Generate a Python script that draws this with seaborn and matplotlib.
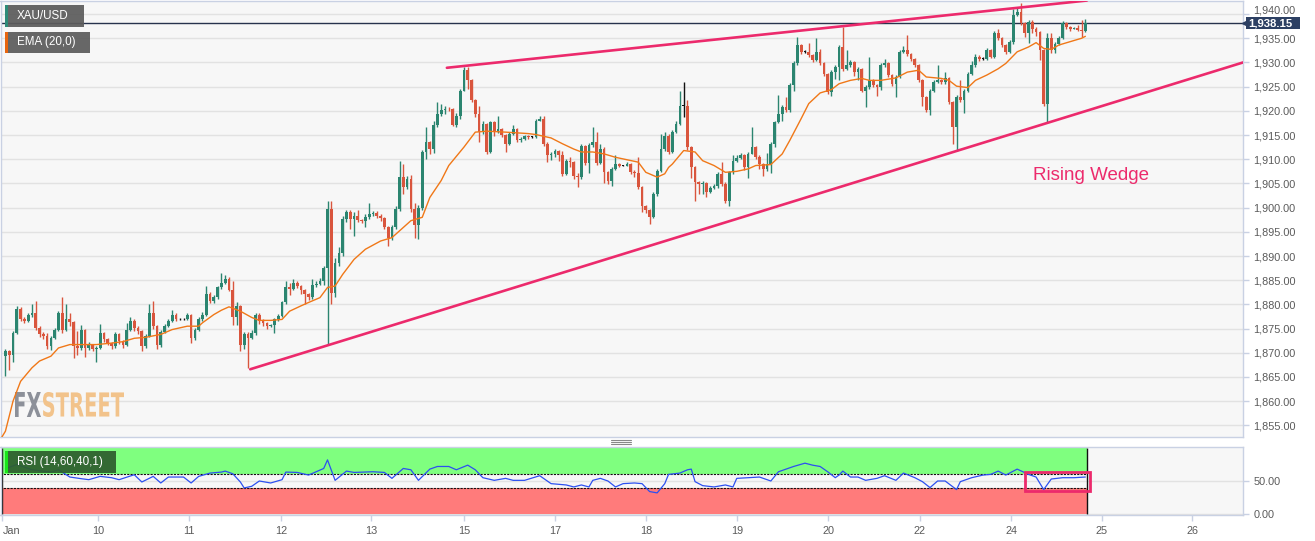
import numpy as np
import pandas as pd
import matplotlib
matplotlib.use('Agg')
import matplotlib.pyplot as plt
import seaborn as sns
from matplotlib.patches import Rectangle, PathPatch
from matplotlib.textpath import TextPath
from matplotlib.font_manager import FontProperties
from matplotlib.transforms import Affine2D, blended_transform_factory
from matplotlib.lines import Line2D
from matplotlib.ticker import FuncFormatter

# hourly XAU/USD candles (open = previous close)
first_open = 1869.4
closes = [
    1870.3, 1869.5, 1874.1, 1879.0, 1877.0, 1876.6, 1877.9, 1878.2, 1875.2, 1873.8,
    1873.5, 1871.4, 1873.1, 1874.8, 1878.3, 1874.8, 1876.9, 1876.3, 1871.4, 1871.0,
    1874.8, 1871.0, 1871.7, 1870.8, 1871.0, 1874.1, 1872.8, 1872.0, 1871.4, 1873.8,
    1872.4, 1871.7, 1874.8, 1876.6, 1875.2, 1874.5, 1871.4, 1873.5, 1878.3, 1875.5,
    1871.7, 1874.3, 1875.5, 1876.6, 1877.9, 1876.9, 1876.9, 1876.9, 1877.8, 1873.1,
    1874.8, 1876.9, 1877.9, 1882.1, 1880.7, 1881.5, 1883.5, 1884.5, 1885.2, 1883.0,
    1877.3, 1879.6, 1871.7, 1873.8, 1873.1, 1874.0, 1877.9, 1876.6, 1876.2, 1875.5,
    1875.7, 1876.9, 1877.6, 1880.4, 1883.5, 1883.2, 1884.5, 1883.8, 1882.9, 1882.1,
    1881.6, 1884.1, 1884.3, 1884.9, 1887.6, 1899.7, 1882.4, 1888.6, 1890.7, 1897.6,
    1899.0, 1897.6, 1898.3, 1897.4, 1897.2, 1898.0, 1898.7, 1898.9, 1898.3, 1897.8,
    1895.9, 1893.8, 1895.9, 1899.7, 1906.3, 1904.2, 1905.9, 1899.7, 1896.5, 1900.0,
    1911.5, 1913.5, 1912.2, 1917.0, 1919.4, 1920.1, 1920.4, 1920.3, 1917.0, 1919.0,
    1924.2, 1928.4, 1926.3, 1922.2, 1919.4, 1915.6, 1917.3, 1911.5, 1917.7, 1915.6,
    1916.3, 1915.0, 1913.2, 1915.3, 1916.3, 1913.9, 1914.2, 1914.7, 1914.6, 1914.6,
    1918.0, 1918.4, 1913.2, 1910.8, 1911.0, 1911.8, 1910.8, 1907.0, 1909.7, 1909.4,
    1906.6, 1906.3, 1912.8, 1909.2, 1912.9, 1913.5, 1909.2, 1912.2, 1907.3, 1905.6,
    1908.0, 1909.0, 1908.7, 1908.7, 1909.0, 1907.3, 1907.2, 1904.2, 1900.4, 1899.6,
    1898.0, 1902.8, 1907.6, 1912.1, 1914.9, 1911.5, 1915.6, 1917.3, 1921.1, 1921.1,
    1912.5, 1908.3, 1905.2, 1904.9, 1905.0, 1903.2, 1904.0, 1904.4, 1907.0, 1904.9,
    1901.4, 1907.3, 1909.7, 1910.3, 1910.8, 1908.3, 1911.1, 1912.5, 1910.4, 1909.0,
    1908.0, 1909.1, 1913.2, 1917.7, 1919.4, 1920.8, 1920.1, 1925.3, 1929.8, 1933.6,
    1932.2, 1932.2, 1931.5, 1930.5, 1932.2, 1929.8, 1927.7, 1923.9, 1928.1, 1929.1,
    1933.2, 1928.7, 1929.4, 1930.1, 1928.0, 1928.7, 1924.2, 1924.9, 1926.3, 1925.3,
    1925.0, 1929.4, 1929.8, 1927.4, 1925.5, 1927.0, 1932.2, 1932.5, 1931.8, 1930.8,
    1929.4, 1926.3, 1922.9, 1920.1, 1924.2, 1926.0, 1926.3, 1925.9, 1926.7, 1921.8,
    1916.6, 1922.9, 1922.2, 1924.2, 1927.7, 1929.4, 1931.2, 1930.8, 1930.8, 1932.5,
    1931.2, 1936.0, 1935.0, 1933.6, 1932.2, 1934.3, 1939.8, 1940.5, 1938.1, 1936.0,
    1938.4, 1937.0, 1936.3, 1932.5, 1921.4, 1935.0, 1932.5, 1933.9, 1935.0, 1938.1,
    1937.4, 1937.0, 1937.2, 1936.7, 1936.5, 1938.15]
highs = [
    1870.8, 1870.6, 1874.5, 1879.7, 1879.5, 1877.5, 1878.3, 1880.0, 1880.8, 1875.5,
    1874.2, 1874.0, 1873.5, 1875.2, 1878.6, 1881.5, 1880.0, 1878.3, 1876.5, 1874.5,
    1875.7, 1875.0, 1872.2, 1871.9, 1871.4, 1875.9, 1874.3, 1873.0, 1872.2, 1874.2,
    1874.0, 1872.6, 1876.2, 1877.3, 1877.0, 1875.6, 1874.8, 1873.9, 1880.0, 1880.7,
    1875.8, 1874.7, 1876.0, 1877.0, 1878.8, 1878.2, 1877.1, 1877.1, 1878.2, 1878.0,
    1875.2, 1877.3, 1878.4, 1883.8, 1882.5, 1882.0, 1883.9, 1886.4, 1886.0, 1885.6,
    1884.8, 1880.4, 1879.8, 1874.3, 1874.3, 1874.8, 1878.3, 1878.2, 1877.0, 1876.4,
    1876.0, 1877.2, 1878.0, 1880.8, 1884.8, 1884.4, 1885.3, 1884.8, 1884.0, 1883.2,
    1882.4, 1885.2, 1884.8, 1885.5, 1888.0, 1901.4, 1901.4, 1889.5, 1891.8, 1898.2,
    1899.6, 1899.5, 1899.0, 1899.6, 1897.6, 1898.6, 1901.0, 1899.4, 1899.2, 1898.6,
    1898.0, 1896.2, 1896.4, 1900.3, 1909.7, 1909.0, 1906.6, 1906.8, 1901.0, 1900.6,
    1912.0, 1916.6, 1913.8, 1917.8, 1921.8, 1921.4, 1920.9, 1920.7, 1920.5, 1919.5,
    1924.6, 1929.1, 1929.0, 1926.6, 1922.4, 1921.0, 1918.0, 1917.4, 1918.0, 1917.9,
    1919.0, 1916.5, 1915.2, 1915.6, 1917.0, 1916.5, 1914.6, 1915.0, 1915.0, 1914.8,
    1918.4, 1918.9, 1918.9, 1913.5, 1911.4, 1912.2, 1912.0, 1911.8, 1910.1, 1910.4,
    1909.6, 1907.2, 1913.2, 1913.0, 1913.3, 1916.6, 1915.6, 1913.2, 1912.5, 1907.6,
    1908.4, 1910.8, 1909.3, 1908.9, 1909.4, 1909.2, 1907.8, 1910.4, 1904.5, 1900.6,
    1899.8, 1903.2, 1908.0, 1915.2, 1915.6, 1915.2, 1916.0, 1918.0, 1924.2, 1926.0,
    1922.2, 1912.8, 1908.5, 1905.6, 1905.4, 1905.3, 1904.4, 1904.8, 1907.4, 1909.4,
    1905.2, 1907.6, 1910.8, 1910.8, 1911.2, 1911.0, 1911.5, 1916.6, 1912.8, 1910.8,
    1909.3, 1911.2, 1913.6, 1918.0, 1923.2, 1921.2, 1922.9, 1925.7, 1930.2, 1935.3,
    1933.8, 1932.6, 1934.0, 1931.8, 1935.0, 1932.8, 1930.0, 1927.9, 1928.5, 1929.5,
    1933.6, 1937.4, 1932.5, 1930.6, 1930.3, 1929.0, 1928.9, 1925.3, 1931.2, 1926.6,
    1925.6, 1929.8, 1930.8, 1930.0, 1927.6, 1927.4, 1932.6, 1933.5, 1935.6, 1932.0,
    1931.0, 1929.6, 1926.5, 1923.1, 1924.6, 1926.4, 1929.4, 1926.5, 1928.1, 1927.0,
    1922.0, 1923.3, 1926.3, 1924.6, 1928.0, 1930.4, 1931.7, 1931.6, 1931.2, 1932.9,
    1932.7, 1936.4, 1937.0, 1935.3, 1933.9, 1934.7, 1941.0, 1941.5, 1942.2, 1938.4,
    1938.8, 1938.7, 1937.3, 1936.6, 1932.8, 1936.0, 1936.0, 1934.3, 1935.4, 1938.5,
    1938.4, 1937.6, 1937.4, 1937.8, 1938.8, 1938.9]
lows = [
    1865.2, 1866.5, 1868.2, 1873.8, 1876.5, 1876.2, 1876.4, 1877.5, 1874.8, 1873.2,
    1872.9, 1870.8, 1870.5, 1872.8, 1874.5, 1874.0, 1874.5, 1875.6, 1869.0, 1869.5,
    1870.6, 1869.2, 1870.6, 1870.4, 1868.0, 1870.8, 1872.3, 1871.6, 1870.8, 1871.0,
    1871.9, 1870.9, 1871.4, 1874.5, 1874.6, 1873.9, 1870.3, 1871.0, 1873.2, 1875.0,
    1870.8, 1871.2, 1874.0, 1875.3, 1876.4, 1876.5, 1876.7, 1876.7, 1876.7, 1872.0,
    1872.7, 1874.5, 1876.6, 1877.6, 1880.2, 1880.3, 1881.2, 1883.2, 1884.2, 1882.7,
    1875.7, 1875.7, 1870.3, 1870.8, 1866.9, 1872.8, 1873.6, 1876.0, 1875.6, 1875.0,
    1875.3, 1874.0, 1876.6, 1877.3, 1880.1, 1882.0, 1883.0, 1883.4, 1882.1, 1880.0,
    1881.0, 1881.2, 1883.6, 1884.0, 1884.0, 1871.6, 1880.0, 1881.5, 1888.0, 1890.0,
    1897.0, 1895.5, 1894.2, 1897.0, 1896.9, 1896.0, 1897.6, 1898.2, 1897.8, 1897.2,
    1895.5, 1892.1, 1893.3, 1895.5, 1899.3, 1902.8, 1903.8, 1899.0, 1893.8, 1893.5,
    1899.6, 1910.0, 1911.0, 1911.2, 1916.6, 1919.0, 1919.4, 1919.9, 1916.8, 1916.6,
    1918.4, 1924.0, 1924.6, 1921.8, 1918.8, 1913.5, 1915.3, 1911.0, 1911.3, 1914.9,
    1915.4, 1914.6, 1911.5, 1913.0, 1915.0, 1913.5, 1913.5, 1913.9, 1914.2, 1914.4,
    1914.3, 1917.8, 1912.8, 1909.4, 1909.8, 1910.5, 1909.6, 1906.6, 1906.8, 1908.3,
    1905.9, 1904.2, 1906.0, 1908.8, 1907.2, 1912.6, 1908.8, 1909.0, 1905.0, 1904.8,
    1904.4, 1907.8, 1908.4, 1908.5, 1908.5, 1906.9, 1906.4, 1903.8, 1899.0, 1898.8,
    1896.6, 1897.8, 1902.5, 1907.4, 1911.8, 1911.0, 1911.3, 1915.4, 1917.0, 1918.8,
    1912.0, 1906.2, 1901.4, 1902.8, 1902.8, 1902.1, 1903.0, 1903.8, 1904.0, 1904.4,
    1901.0, 1900.4, 1907.0, 1909.4, 1910.1, 1907.8, 1906.2, 1911.0, 1910.0, 1907.9,
    1906.6, 1907.6, 1907.2, 1912.5, 1917.4, 1917.9, 1919.7, 1919.8, 1924.0, 1929.5,
    1931.7, 1932.0, 1931.2, 1930.1, 1930.3, 1929.4, 1927.3, 1923.5, 1923.0, 1926.6,
    1926.3, 1928.2, 1928.4, 1929.0, 1927.2, 1926.4, 1923.8, 1920.8, 1924.6, 1924.9,
    1923.0, 1924.3, 1929.0, 1927.0, 1925.2, 1922.8, 1926.8, 1932.0, 1931.4, 1930.4,
    1929.0, 1925.9, 1921.1, 1919.8, 1919.1, 1923.9, 1925.8, 1925.5, 1925.6, 1921.4,
    1913.2, 1911.8, 1921.8, 1919.5, 1923.9, 1927.4, 1929.1, 1930.4, 1930.6, 1930.5,
    1930.9, 1931.0, 1934.6, 1933.2, 1931.8, 1932.0, 1933.9, 1939.6, 1937.8, 1935.2,
    1934.0, 1936.0, 1935.4, 1930.5, 1921.0, 1917.7, 1932.0, 1932.0, 1933.6, 1934.8,
    1937.0, 1936.5, 1936.9, 1936.4, 1935.3, 1936.3]

# EMA(20) line, sampled off the chart
ema_idx = [-1, 0, 2, 4, 7, 9, 12, 14, 17, 21, 24, 28, 31, 34, 37, 41, 44, 48, 51, 52, 55,
           57, 59, 62, 65, 67, 70, 73, 75, 78, 80, 83, 85, 87, 89, 92, 95, 99, 102, 104, 107,
           110, 112, 115, 117, 121, 124, 127, 132, 138, 140, 144, 147, 150, 152, 155, 158,
           161, 164, 167, 169, 172, 174, 175, 176, 179, 182, 184, 187, 190, 193, 196, 198,
           202, 205, 207, 210, 212, 215, 218, 220, 223, 226, 228, 231, 235, 238, 241, 243,
           247, 249, 251, 254, 256, 259, 262, 264, 267, 270, 272, 274, 276, 278, 281, 284, 285]
ema_val = [1852.5, 1853.8, 1860.0, 1864.1, 1866.9, 1868.3, 1869.3, 1871.0, 1871.7, 1871.7,
           1871.7, 1872.0, 1872.3, 1873.0, 1873.2, 1873.8, 1874.8, 1875.5, 1875.5, 1876.2,
           1877.9, 1878.8, 1879.5, 1878.6, 1877.3, 1876.7, 1876.7, 1876.9, 1878.6, 1879.7,
           1880.4, 1881.4, 1883.5, 1883.8, 1886.2, 1889.3, 1891.4, 1893.1, 1893.8, 1895.2,
           1897.3, 1898.0, 1902.1, 1905.6, 1908.7, 1912.5, 1915.6, 1915.8, 1915.6, 1915.3,
           1915.1, 1914.4, 1913.2, 1912.1, 1911.5, 1911.5, 1911.1, 1910.4, 1909.9, 1909.4,
           1907.3, 1906.3, 1907.0, 1908.3, 1909.0, 1911.8, 1911.5, 1909.7, 1908.7, 1907.3,
           1907.5, 1908.0, 1908.7, 1908.9, 1911.1, 1913.9, 1918.4, 1921.5, 1923.7, 1924.4,
           1925.6, 1926.3, 1926.7, 1926.3, 1926.3, 1926.8, 1928.0, 1928.4, 1927.0, 1926.7,
           1926.3, 1925.1, 1924.8, 1926.3, 1927.4, 1928.7, 1929.8, 1932.2, 1933.2, 1934.1,
           1932.9, 1932.7, 1933.6, 1934.3, 1935.0, 1935.4]

# RSI(14) line, sampled off the chart
rsi_idx = [0, 3, 7, 12, 14, 17, 20, 22, 25, 28, 30, 34, 36, 39, 41, 43, 47, 49, 51, 54,
           57, 58, 60, 62, 63, 65, 67, 70, 73, 74, 77, 80, 82, 84, 85, 87, 90, 92, 97, 100,
           102, 105, 107, 109, 112, 114, 117, 119, 122, 124, 126, 129, 132, 134, 137, 141,
           144, 148, 150, 152, 154, 155, 157, 159, 161, 163, 166, 168, 170, 172, 174, 175,
           178, 180, 181, 182, 184, 187, 190, 192, 193, 196, 199, 202, 204, 206, 208, 211,
           213, 215, 217, 219, 220, 221, 223, 225, 227, 230, 232, 235, 237, 240, 242, 244,
           246, 248, 251, 252, 255, 258, 260, 262, 264, 267, 270, 272, 274, 276, 279, 282, 285]
rsi_val = [68.6, 75, 67, 63.5, 67, 56, 53.5, 52, 57, 55, 52, 59.5, 48.5, 57, 47, 56, 56, 47,
           57, 62, 63.5, 65, 61, 48.5, 39.5, 42, 50, 47, 52, 63.5, 63, 59, 64, 69, 82, 51, 65,
           63, 64, 63, 54, 69, 67, 51, 68, 72, 72, 67, 74, 67, 55, 51, 54, 51, 51, 58, 46, 44,
           41, 44, 41, 51, 54, 50, 41, 46, 47, 46, 34, 32, 46, 60, 62, 67, 68, 49, 43, 41, 44,
           41, 54, 55, 56, 50, 64, 68, 72, 77, 74, 72, 64, 55, 59, 65, 56, 56, 51, 54, 58, 51,
           62, 55, 49, 40, 50, 50, 37, 49, 55, 59, 60, 65, 59, 68, 60, 56, 37, 53, 55, 55, 56]

day_ticks = [-0.8, 24.5, 48.5, 72.7, 96.6, 121.0, 145.0, 169.0, 193.0, 217.2, 241.3, 265.5, 289.3, 313.2]
day_labels = ['Jan', '10', '11', '12', '13', '15', '17', '18', '19', '20', '22', '24', '25', '26']

upper_x, upper_y = [116.5, 285.4], [1928.9, 1942.8]
lower_x, lower_y = [64.6, 326.6], [1866.6, 1930.0]
last_price = 1938.15

sns.set_theme(style='white')
plt.rcParams['font.family'] = ['Liberation Sans', 'DejaVu Sans']

W, H = 1315, 541
fig = plt.figure(figsize=(W / 100, H / 100), dpi=100, facecolor='white')


def px_rect(x0, y0, x1, y1):
    return [x0 / W, 1 - y1 / H, (x1 - x0) / W, (y1 - y0) / H]


ax = fig.add_axes(px_rect(0.5, 1, 1243, 437))
axr = fig.add_axes(px_rect(0.5, 447, 1243, 515), sharex=ax)

BG, EDGE, GRID, TXT = '#f7f7f7', '#c9d1e3', '#e2e2e2', '#5a5a5a'
PINK = '#ec2a6c'
TAG = '#2d4063'
for a in (ax, axr):
    a.set_facecolor(BG)
    for s in a.spines.values():
        s.set_color(EDGE)
        s.set_linewidth(1)

# candles
df = pd.DataFrame({'close': closes, 'high': highs, 'low': lows})
df['open'] = [first_open] + closes[:-1]
df['idx'] = np.arange(len(df))
diff = df['close'] - df['open']
df['color'] = np.where(diff > 0.05, '#2b8570', np.where(diff < -0.05, '#d9553d', '#111111'))
df['body_lo'] = df[['open', 'close']].min(axis=1)
df['body_h'] = diff.abs().clip(lower=0.15)

ax.vlines(df['idx'], df['low'], df['high'], colors=df['color'], lw=1, zorder=3)
ax.bar(df['idx'], df['body_h'], bottom=df['body_lo'], width=0.72,
       color=df['color'], linewidth=0, zorder=4)

sns.lineplot(x=ema_idx, y=ema_val, ax=ax, color='#f07818', lw=1, zorder=5)
sns.lineplot(x=upper_x, y=upper_y, ax=ax, color=PINK, lw=1.9, zorder=6)
sns.lineplot(x=lower_x, y=lower_y, ax=ax, color=PINK, lw=1.9, zorder=6)
ax.axhline(last_price, color='#27334d', lw=1, zorder=2.5)
ax.text(271.2, 1906.7, 'Rising Wedge', color=PINK, fontsize=13.5, va='center', ha='left', zorder=7)


# FXSTREET watermark
def logo_word(word, x0, x1, y_top, y_bot, color):
    tp = TextPath((0, 0), word, size=10, prop=FontProperties(family='DejaVu Sans', weight='bold'))
    ext = tp.get_extents()
    tr = (Affine2D().translate(-ext.x0, -ext.y0)
          .scale((x1 - x0) / ext.width / W, (y_bot - y_top) / ext.height / H)
          .translate(x0 / W, 1 - y_bot / H))
    ax.add_patch(PathPatch(tr.transform_path(tp), transform=fig.transFigure,
                           fc=color, ec='none', zorder=1.5))


logo_word('FX', 15, 41, 392, 417, '#8c9099')
logo_word('STREET', 43, 124, 392, 417, '#f2c38b')

ax.set_xlim(-1.3, 326.6)
ax.set_ylim(1852.6, 1942.7)
ax.yaxis.tick_right()
ax.set_yticks(np.arange(1855, 1941, 5))
# the 1,940.00 label is written separately, nudged up clear of the price tag
ax.yaxis.set_major_formatter(FuncFormatter(lambda v, p: '' if v > 1939 else f'{v:,.2f}'))
ax.tick_params(axis='y', right=True, left=False, length=4, width=1, color=EDGE,
               labelsize=7.8, labelcolor=TXT, pad=3.5)
ax.tick_params(axis='x', bottom=False, labelbottom=False)
ax.grid(axis='y', color=GRID, lw=1)
ax.set_axisbelow(True)

trans = blended_transform_factory(ax.transAxes, ax.transData)
ax.text(1 + 10.5 / 1243, 1940.75, '1,940.00', transform=trans, ha='left', va='center',
        fontsize=7.8, color=TXT, clip_on=False)

# price tag on the right axis
ax.add_patch(Rectangle((1 + 3 / 1243, last_price - 6 / 4.84), 54 / 1243, 12 / 4.84,
                       transform=trans, fc=TAG, ec='none', clip_on=False, zorder=29))
ax.plot([1 + 2.5 / 1243], [last_price], marker='<', ms=5, color=TAG,
        transform=trans, clip_on=False, zorder=30)
ax.text(1 + 5.5 / 1243, last_price, '1,938.15', transform=trans, ha='left', va='center',
        fontsize=8.2, fontweight='bold', color='white', zorder=31, clip_on=False)

# RSI panel
end = len(df) - 0.5
xmin = -1.3
axr.fill_between([xmin, end], 60, 100, color='#7fff7f', lw=0, zorder=1)
axr.fill_between([xmin, end], 0, 40, color='#ff7b7b', lw=0, zorder=1)
axr.hlines([60, 40], xmin, end, colors='#111111', lw=0.8, linestyles=(0, (2, 1)), zorder=2)
axr.vlines([xmin + 0.3, end], 0, 100, colors='#111111', lw=1, zorder=2)
sns.lineplot(x=rsi_idx, y=rsi_val, ax=axr, color='#2c50f0', lw=0.9, zorder=4)
axr.add_patch(Rectangle((269.1, 34.4), 17.2, 29.7, fill=False, ec=PINK, lw=2, zorder=5))

axr.set_ylim(-1.5, 101.5)
axr.yaxis.tick_right()
axr.set_yticks([0, 50])
axr.yaxis.set_major_formatter(FuncFormatter(lambda v, p: f'{v:.2f}'))
axr.tick_params(axis='y', right=True, left=False, length=4, width=1, color=EDGE,
                labelsize=7.8, labelcolor=TXT, pad=3.5)
axr.grid(axis='y', color=GRID, lw=1)
axr.set_axisbelow(True)
axr.set_xticks(day_ticks)
axr.set_xticklabels(day_labels)
axr.tick_params(axis='x', bottom=True, length=4, width=1, color=EDGE,
                labelsize=7.8, labelcolor=TXT, pad=4)
axr.get_xticklabels()[0].set_ha('left')
for a in (ax, axr):
    a.set_xlabel('')
    a.set_ylabel('')


# legend-like labels on the top left
def label_box(text, x0, y0, x1, y1, bar_color, box_color):
    fig.add_artist(Rectangle((x0 / W, 1 - y1 / H), (x1 - x0) / W, (y1 - y0) / H,
                             transform=fig.transFigure, fc=box_color, ec='none', alpha=0.93, zorder=20))
    fig.add_artist(Rectangle((x0 / W, 1 - y1 / H), 2.5 / W, (y1 - y0) / H,
                             transform=fig.transFigure, fc=bar_color, ec='none', zorder=21))
    fig.text(17 / W, 1 - (y0 + y1) / 2 / H, text, color='white', fontsize=8.4,
             va='center', ha='left', zorder=22)


label_box('XAU/USD', 5, 5, 84, 27, '#2e8b78', '#5c5c5c')
label_box('EMA (20,0)', 5, 32, 90, 53, '#e8650f', '#5c5c5c')
label_box('RSI (14,60,40,1)', 5, 451, 116, 473, '#19e619', '#2e5e2e')

# pane separator handle
for yy in (439.5, 441.5, 443.5):
    fig.add_artist(Line2D([611 / W, 631 / W], [1 - yy / H] * 2, transform=fig.transFigure,
                          color='#888888', lw=0.8))

fig.savefig('out.png', dpi=100, facecolor='white')
